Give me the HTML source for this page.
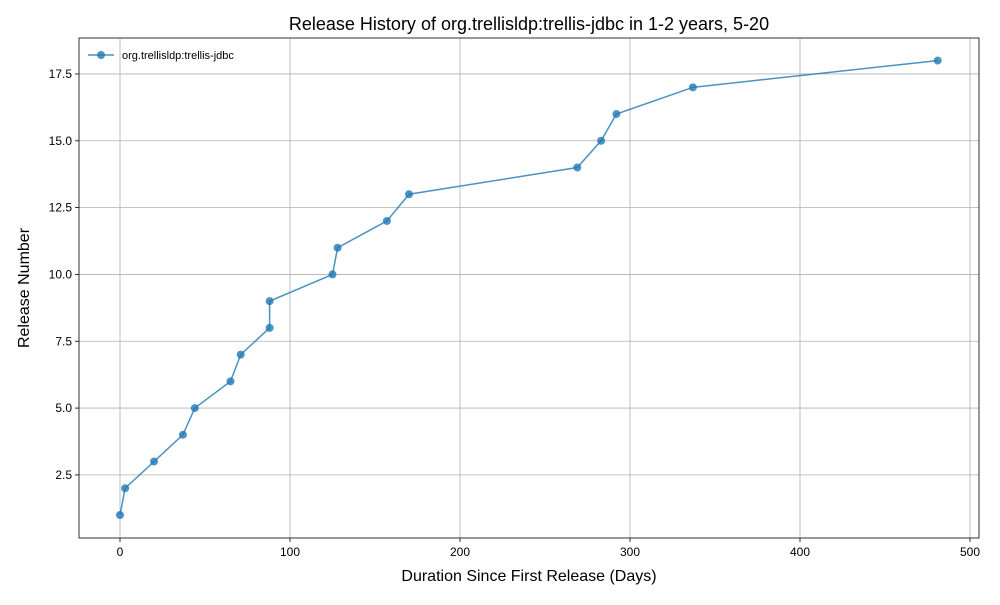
<!DOCTYPE html>
<html><head><meta charset="utf-8"><style>
body{margin:0;background:#fff;font-family:"Liberation Sans","DejaVu Sans",sans-serif}
</style></head><body>
<svg id="chart" width="1000" height="600" xmlns="http://www.w3.org/2000/svg"></svg>
<script>
const days=[0,3,20,37,44,65,71,88,88,125,128,157,170,269,283,292,337,481];
const releases=[1,2,3,4,5,6,7,8,9,10,11,12,13,14,15,16,17,18];
const xTicks=[0,100,200,300,400,500];
const yTicks=[2.5,5.0,7.5,10.0,12.5,15.0,17.5];
const L=79,R=979,T=38,B=538;
const xs=d=>120+d*1.7;
const ys=v=>515-(v-1)*26.73;
const svg=document.getElementById('chart');
const NS='http://www.w3.org/2000/svg';
function mk(tag,attrs,parent){const e=document.createElementNS(NS,tag);for(const k in attrs)e.setAttribute(k,attrs[k]);(parent||svg).appendChild(e);return e;}
const grid=mk('g',{});


xTicks.forEach(t=>{const x=xs(t);if(x>R)return;
mk('line',{x1:x,x2:x,y1:T,y2:B,stroke:'#b0b0b0','stroke-width':0.8},grid);
mk('line',{x1:x,x2:x,y1:B,y2:B+4,stroke:'#000','stroke-width':0.8});
const tx=mk('text',{x:x,y:B+18,'text-anchor':'middle','font-size':12});tx.textContent=t;

});
yTicks.forEach(t=>{const y=ys(t);
mk('line',{x1:L,x2:R,y1:y,y2:y,stroke:'#b0b0b0','stroke-width':0.8},grid);
mk('line',{x1:L-4,x2:L,y1:y,y2:y,stroke:'#000','stroke-width':0.8});
const tx=mk('text',{x:L-7,y:y+4,'text-anchor':'end','font-size':12});tx.textContent=t.toFixed(1);

});
const pts=days.map((d,i)=>xs(d)+','+ys(releases[i])).join(' ');
const line=mk('polyline',{points:pts,fill:'none',stroke:'#1f77b4','stroke-opacity':0.8,'stroke-width':1.5});


days.forEach((d,i)=>{const c=mk('circle',{cx:xs(d),cy:ys(releases[i]),r:4,fill:'#1f77b4','fill-opacity':0.8});

});
const frame=mk('rect',{x:L,y:T,width:R-L,height:B-T,fill:'none',stroke:'#000','stroke-width':0.8});


const title=mk('text',{x:529,y:30,'text-anchor':'middle','font-size':18});title.textContent='Release History of org.trellisldp:trellis-jdbc in 1-2 years, 5-20';


const xl=mk('text',{x:529,y:581,'text-anchor':'middle','font-size':16});xl.textContent='Duration Since First Release (Days)';


const yl=mk('text',{x:29,y:288,'text-anchor':'middle','font-size':16,transform:'rotate(-90 29 288)'});yl.textContent='Release Number';


const lg=mk('g',{});


mk('line',{x1:88,x2:114,y1:55,y2:55,stroke:'#1f77b4','stroke-opacity':0.8,'stroke-width':1.5},lg);
mk('circle',{cx:101,cy:55,r:4,fill:'#1f77b4','fill-opacity':0.8},lg);
const lt=mk('text',{x:122,y:59,'font-size':11},lg);lt.textContent='org.trellisldp:trellis-jdbc';
</script>
</body></html>
